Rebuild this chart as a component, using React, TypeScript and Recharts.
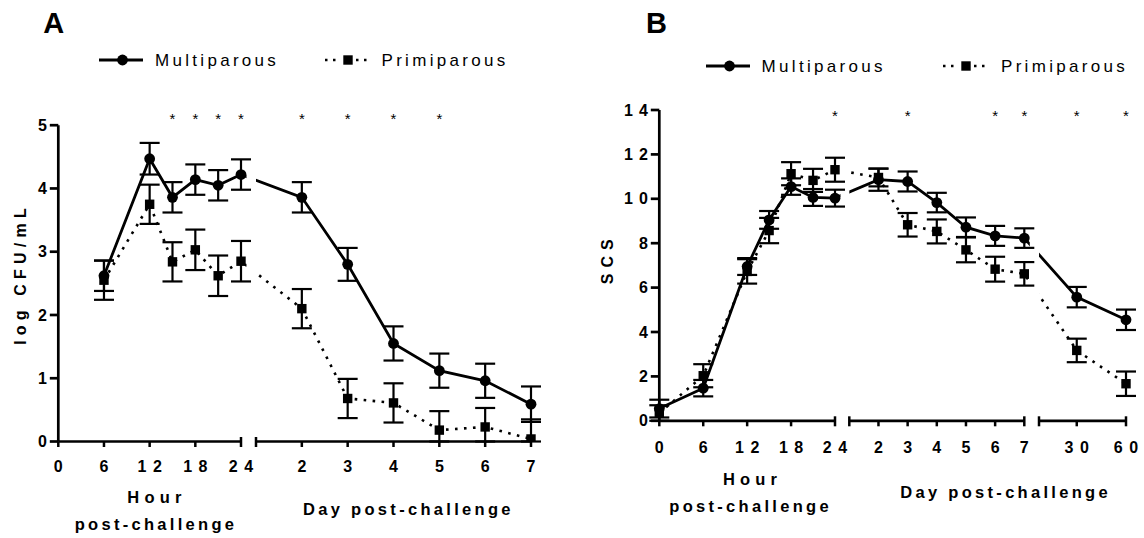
import React from "react";
import { LineChart, Line, XAxis, YAxis, ErrorBar, ReferenceLine, ReferenceArea, ReferenceDot } from "recharts";

const FONT = '"Liberation Sans", Arial, Helvetica, sans-serif';
const INK = "#000";

// ---- A: bacterial count (log CFU/mL) ----
const hoursA = [6, 12, 15, 18, 21, 24];
const daysA = [2, 3, 4, 5, 6, 7];
const multiCfu = [2.62, 4.47, 3.86, 4.14, 4.05, 4.22, 3.86, 2.8, 1.55, 1.12, 0.96, 0.59];
const multiCfuSem = [0.24, 0.25, 0.24, 0.24, 0.24, 0.24, 0.24, 0.26, 0.27, 0.27, 0.27, 0.28];
const primiCfu = [2.55, 3.75, 2.84, 3.03, 2.62, 2.85, 2.1, 0.68, 0.61, 0.18, 0.23, 0.04];
const primiCfuSem = [0.31, 0.31, 0.31, 0.32, 0.32, 0.32, 0.31, 0.31, 0.31, 0.3, 0.3, 0.31];
const sigHoursA = [15, 18, 21, 24];
const sigDaysA = [2, 3, 4, 5];

// ---- B: somatic cell score ----
const hoursB = [0, 6, 12, 15, 18, 21, 24];
const daysB = [2, 3, 4, 5, 6, 7, 30, 60];
const multiScs = [0.55, 1.47, 6.95, 9.05, 10.55, 10.06, 10.03, 10.86, 10.78, 9.83, 8.72, 8.33, 8.23, 5.57, 4.55];
const multiScsSem = [0.4, 0.37, 0.38, 0.4, 0.37, 0.38, 0.38, 0.5, 0.45, 0.44, 0.44, 0.45, 0.44, 0.46, 0.46];
const primiScs = [0.35, 2.03, 6.73, 8.57, 11.13, 10.83, 11.31, 10.96, 8.83, 8.53, 7.7, 6.83, 6.62, 3.17, 1.67];
const primiScsSem = [0.35, 0.52, 0.55, 0.57, 0.52, 0.52, 0.54, 0.4, 0.53, 0.54, 0.56, 0.56, 0.53, 0.53, 0.55];
const sigHoursB = [24];
const sigDaysB = [3, 6, 7, 30, 60];

// axis labels
const hourTicks = [0, 6, 12, 18, 24];
const dayTicks = [2, 3, 4, 5, 6, 7];
const lateTicks = [30, 60];
const cfuTicks = [0, 1, 2, 3, 4, 5];
const scsTicks = [0, 2, 4, 6, 8, 10, 12, 14];

type Unit = "h" | "d";
type Piece = { unit: Unit; from: number; to: number; len: number; gap: number; labels: number[] };
type TickSpec = { pos: number; label?: string; mark: "down" | "cap" };

// broken x axis: each piece is linear over [from, to] and `len` px long
const piecesA: Piece[] = [
  { unit: "h", from: 0, to: 24, len: 182.7, gap: 15, labels: hourTicks },
  { unit: "d", from: 1, to: 7, len: 275, gap: 0, labels: dayTicks },
];
const piecesB: Piece[] = [
  { unit: "h", from: 0, to: 24, len: 175.7, gap: 14.3, labels: hourTicks },
  { unit: "d", from: 1, to: 7, len: 175, gap: 14.7, labels: dayTicks },
  { unit: "d", from: 7, to: 60, len: 87, gap: 0, labels: lateTicks },
];

function pieceStarts(pieces: Piece[]) {
  const out: number[] = [];
  pieces.forEach((p, i) => out.push(i === 0 ? 0 : out[i - 1] + pieces[i - 1].len + pieces[i - 1].gap));
  return out;
}

function place(pieces: Piece[], unit: Unit, v: number) {
  const st = pieceStarts(pieces);
  for (let i = 0; i < pieces.length; i++) {
    const p = pieces[i];
    if (p.unit === unit && v >= p.from && v <= p.to) return st[i] + ((v - p.from) / (p.to - p.from)) * p.len;
  }
  return NaN;
}

function axisTicks(pieces: Piece[]): TickSpec[] {
  const st = pieceStarts(pieces);
  const out: TickSpec[] = [];
  pieces.forEach((p, i) => {
    if (i > 0) out.push({ pos: st[i], mark: "cap" });
    p.labels.forEach((t) =>
      out.push({
        pos: st[i] + ((t - p.from) / (p.to - p.from)) * p.len,
        label: String(t),
        mark: t === p.to ? "cap" : "down",
      })
    );
  });
  return out;
}

function buildRows(pieces: Piece[], hours: number[], days: number[], m: number[], mErr: number[], p: number[], pErr: number[]) {
  const xs = [...hours.map((h) => place(pieces, "h", h)), ...days.map((d) => place(pieces, "d", d))];
  return xs.map((pos, i) => ({ pos, multi: m[i], multiErr: mErr[i], primi: p[i], primiErr: pErr[i] }));
}

const rowsA = buildRows(piecesA, hoursA, daysA, multiCfu, multiCfuSem, primiCfu, primiCfuSem);
const rowsB = buildRows(piecesB, hoursB, daysB, multiScs, multiScsSem, primiScs, primiScsSem);
const sigA = [...sigHoursA.map((h) => place(piecesA, "h", h)), ...sigDaysA.map((d) => place(piecesA, "d", d))];
const sigB = [...sigHoursB.map((h) => place(piecesB, "h", h)), ...sigDaysB.map((d) => place(piecesB, "d", d))];

// error bars stop at the x axis (nothing is drawn below zero)
const clippedErr = (valueKey: string, errKey: string) => (d: any) => [Math.min(d[errKey], d[valueKey]), d[errKey]];

const TICK_LS = 6.5;
const tickFont = { fontFamily: FONT, fontSize: 16, fontWeight: 700 };

const XTick = (props: any) => {
  const { x, y, payload, specs, dy } = props;
  const t = specs.find((s: TickSpec) => Math.abs(s.pos - payload.value) < 0.01);
  if (!t) return null;
  return (
    <g>
      <line x1={x} x2={x} y1={t.mark === "cap" ? y - 4.5 : y} y2={y + 5.5} stroke={INK} strokeWidth={2.5} />
      {t.label && (
        <text x={x + TICK_LS / 2} y={y + dy} textAnchor="middle" fill={INK}
          style={{ ...tickFont, letterSpacing: TICK_LS }}>
          {t.label}
        </text>
      )}
    </g>
  );
};

const YTick = (props: any) => {
  const { x, y, payload } = props;
  return (
    <text x={x + 6} y={y} dy={5.6} textAnchor="end" fill={INK} style={{ ...tickFont, letterSpacing: 6 }}>
      {payload.value}
    </text>
  );
};

// significance marker, placed relative to the top edge of the plot
const starShape = (dy: number) => (p: any) => (
  <text x={p.cx} y={p.cy + dy} textAnchor="middle" fill={INK} style={{ fontFamily: FONT, fontSize: 15 }}>*</text>
);

const circleDot = (p: any) => <circle key={`c${p.index}`} cx={p.cx} cy={p.cy} r={5.4} fill={INK} />;
const squareDot = (p: any) => <rect key={`s${p.index}`} x={p.cx - 4.7} y={p.cy - 4.7} width={9.4} height={9.4} fill={INK} />;

type ChartProps = {
  pieces: Piece[];
  data: any[];
  yMax: number;
  yTicks: number[];
  sig: number[];
  width: number;
  height: number;
  margin: { top: number; right: number; bottom: number; left: number };
  tickDy: number;
  starDy: number;
};

function BrokenAxisChart({ pieces, data, yMax, yTicks, sig, width, height, margin, tickDy, starDy }: ChartProps) {
  const st = pieceStarts(pieces);
  const total = st[st.length - 1] + pieces[pieces.length - 1].len;
  const ticks = axisTicks(pieces);
  const gaps = pieces.slice(0, -1).map((p, i) => ({ x1: st[i] + p.len + 5.5, x2: st[i + 1] }));

  return (
    <LineChart width={width} height={height} data={data} margin={margin}>
      <Line dataKey="multi" stroke={INK} strokeWidth={2.8} dot={false} activeDot={false} isAnimationActive={false} />
      <Line dataKey="primi" stroke={INK} strokeWidth={2.6} strokeDasharray="2.6 6.4" dot={false}
        activeDot={false} isAnimationActive={false} />
      {/* the connecting lines are interrupted where the axis is broken */}
      {gaps.map((g, i) => (
        <ReferenceArea key={`gap${i}`} x1={g.x1} x2={g.x2} y1={0} y2={yMax} fill="#fff" fillOpacity={1}
          stroke="none" zIndex={450} />
      ))}
      <Line dataKey="multi" stroke="none" dot={circleDot} activeDot={false} isAnimationActive={false} zIndex={460}>
        <ErrorBar dataKey={clippedErr("multi", "multiErr")} width={10} strokeWidth={2.2} stroke={INK}
          direction="y" zIndex={460} />
      </Line>
      <Line dataKey="primi" stroke="none" dot={squareDot} activeDot={false} isAnimationActive={false} zIndex={460}>
        <ErrorBar dataKey={clippedErr("primi", "primiErr")} width={10} strokeWidth={2.2} stroke={INK}
          direction="y" zIndex={460} />
      </Line>
      {pieces.map((p, i) => (
        <ReferenceLine key={`axis${i}`} segment={[{ x: st[i], y: 0 }, { x: st[i] + p.len, y: 0 }]}
          stroke={INK} strokeWidth={2.7} zIndex={500} />
      ))}
      {sig.map((pos, i) => (
        <ReferenceDot key={`sig${i}`} x={pos} y={yMax} r={0} ifOverflow="visible" shape={starShape(starDy)}
          zIndex={500} />
      ))}
      <XAxis type="number" dataKey="pos" domain={[0, total]} ticks={ticks.map((t) => t.pos)} interval={0}
        height={30} axisLine={false} tickLine={false} tickSize={0} tickMargin={0}
        tick={<XTick specs={ticks} dy={tickDy} />} />
      <YAxis type="number" domain={[0, yMax]} ticks={yTicks} interval={0} allowDataOverflow width={50}
        tickSize={8.5} tickMargin={3} axisLine={{ stroke: INK, strokeWidth: 2.7 }}
        tickLine={{ stroke: INK, strokeWidth: 2.7 }} tick={<YTick />} />
    </LineChart>
  );
}

const boldText = { fontFamily: FONT, fontWeight: "bold" as const, fill: INK };

function LegendRow({ x, y, textX, dottedX, dottedTextX }: { x: number; y: number; textX: number; dottedX: number; dottedTextX: number }) {
  return (
    <g>
      <line x1={x} x2={x + 44} y1={y} y2={y} stroke={INK} strokeWidth={2.8} />
      <circle cx={x + 23.5} cy={y} r={5.4} fill={INK} />
      <text x={textX} y={y + 6.4} fontFamily={FONT} fontSize={17} letterSpacing={3.3} fill={INK}>Multiparous</text>
      <line x1={dottedX} x2={dottedX + 15} y1={y} y2={y} stroke={INK} strokeWidth={2.5} strokeDasharray="2.5 5.5" />
      <line x1={dottedX + 31} x2={dottedX + 46} y1={y} y2={y} stroke={INK} strokeWidth={2.5} strokeDasharray="2.5 5.5" />
      <rect x={dottedX + 18.3} y={y - 4.7} width={9.4} height={9.4} fill={INK} />
      <text x={dottedTextX} y={y + 6.4} fontFamily={FONT} fontSize={17} letterSpacing={3.3} fill={INK}>Primiparous</text>
    </g>
  );
}

export default function App() {
  return (
    <div style={{ position: "absolute", left: 0, top: 0, width: 1144, height: 538, background: "#fff" }}>
      <div style={{ position: "absolute", left: 0, top: 0 }}>
        <BrokenAxisChart pieces={piecesA} data={rowsA} yMax={5} yTicks={cfuTicks} sig={sigA} width={560}
          height={538} margin={{ top: 125.2, right: 29, bottom: 66.5, left: 8.3 }} tickDy={30.2} starDy={-1.3} />
      </div>
      <div style={{ position: "absolute", left: 580, top: 0 }}>
        <BrokenAxisChart pieces={piecesB} data={rowsB} yMax={14} yTicks={scsTicks} sig={sigB} width={564}
          height={538} margin={{ top: 110, right: 18, bottom: 87.2, left: 29.3 }} tickDy={32} starDy={11.4} />
      </div>
      <svg width={1144} height={538} style={{ position: "absolute", left: 0, top: 0, pointerEvents: "none" }}>
        {/* panel A */}
        <text x={43.3} y={32.7} fontSize={29} {...boldText}>A</text>
        <LegendRow x={99} y={60} textX={155} dottedX={325} dottedTextX={381.5} />
        <text transform="translate(25.5 276.7) rotate(-90)" x={2.7} textAnchor="middle" fontSize={16}
          letterSpacing={5.2} {...boldText}>log CFU/mL</text>
        <text x={157} y={503.3} textAnchor="middle" fontSize={16.5} letterSpacing={5.2} {...boldText}>Hour</text>
        <text x={156} y={530} textAnchor="middle" fontSize={16.5} letterSpacing={3.3} {...boldText}>post-challenge</text>
        <text x={408.4} y={515} textAnchor="middle" fontSize={16.5} letterSpacing={3.3} {...boldText}>Day post-challenge</text>

        {/* panel B */}
        <text x={646} y={32.7} fontSize={29} {...boldText}>B</text>
        <LegendRow x={706} y={66} textX={761.6} dottedX={943} dottedTextX={1001} />
        <text transform="translate(613.3 261.7) rotate(-90)" x={3} textAnchor="middle" fontSize={16}
          letterSpacing={6} {...boldText}>SCS</text>
        <text x={752.6} y={485} textAnchor="middle" fontSize={16.5} letterSpacing={5.2} {...boldText}>Hour</text>
        <text x={750.6} y={511.7} textAnchor="middle" fontSize={16.5} letterSpacing={3.3} {...boldText}>post-challenge</text>
        <text x={1005.6} y={498} textAnchor="middle" fontSize={16.5} letterSpacing={3.3} {...boldText}>Day post-challenge</text>
      </svg>
    </div>
  );
}
